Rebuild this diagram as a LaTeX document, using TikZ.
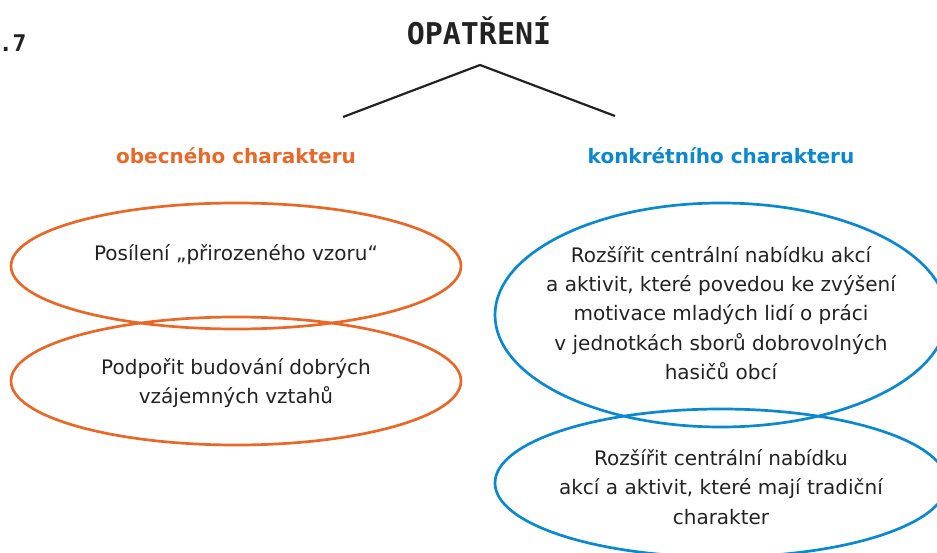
\documentclass[tikz,border=0pt]{standalone}
\usepackage{fontspec}
\setmainfont{DejaVu Sans}
\newfontfamily\nadpisfont{DejaVu Sans Mono}
\usetikzlibrary{shapes.geometric}
\definecolor{oranzova}{RGB}{233,104,40}
\definecolor{modra}{RGB}{10,137,208}
\definecolor{textova}{RGB}{34,34,34}
\tikzset{
	kruhO/.style={ellipse,draw=oranzova,line width=2.7pt,inner sep=0pt},
	kruhM/.style={ellipse,draw=modra,line width=2.7pt,inner sep=0pt},
	popis/.style={text=textova,align=center,inner sep=0pt,font=\fontsize{20}{29.3}\selectfont},
	hlavicka/.style={font=\bfseries\fontsize{20}{24}\selectfont}
}
\begin{document}
\begin{tikzpicture}[x=1pt,y=-1pt]
				\useasboundingbox (0,0) rectangle (937,553);
				%nadpis
				\node[anchor=base east,font=\nadpisfont\bfseries\fontsize{23}{26}\selectfont,text=textova] (cislo) at (30,52) {.7};
				\node[font=\nadpisfont\bfseries\fontsize{30}{34}\selectfont,text=textova] (opatreni) at (479,31) {OPATŘENÍ};
				%vetve
				\coordinate (vrchol) at (480,65);
				\coordinate (vlevo) at (343,117);
				\coordinate (vpravo) at (615,116);
				\draw[line width=2.2pt,textova] (vlevo) -- (vrchol) -- (vpravo);
				%obecneho charakteru
				\node[hlavicka,text=oranzova,anchor=base] (obecne) at (236,164) {obecného charakteru};
				\node[kruhO,minimum width=450pt,minimum height=126pt] (obecne1) at (236,266) {};
				\node[kruhO,minimum width=450pt,minimum height=128pt] (obecne2) at (236,381) {};
				\node[popis,anchor=base] (text1) at (236,261) {Posílení „přirozeného vzoru“};
				\node[popis] (text2) at (236,383) {Podpořit budování dobrých\\vzájemných vztahů};
				%konkretniho charakteru
				\node[hlavicka,text=modra,anchor=base] (konkretni) at (721,164) {konkrétního charakteru};
				\node[kruhM,minimum width=452pt,minimum height=224pt] (konkretni1) at (721,315) {};
				\node[kruhM,minimum width=452pt,minimum height=148pt] (konkretni2) at (721,483) {};
				\node[popis] (text3) at (721,313) {Rozšířit centrální nabídku akcí\\a aktivit, které povedou ke zvýšení\\motivace mladých lidí o práci\\v jednotkách sborů dobrovolných\\hasičů obcí};
				\node[popis] (text4) at (721,487) {Rozšířit centrální nabídku\\akcí a aktivit, které mají tradiční\\charakter};
			\end{tikzpicture}
\end{document}
